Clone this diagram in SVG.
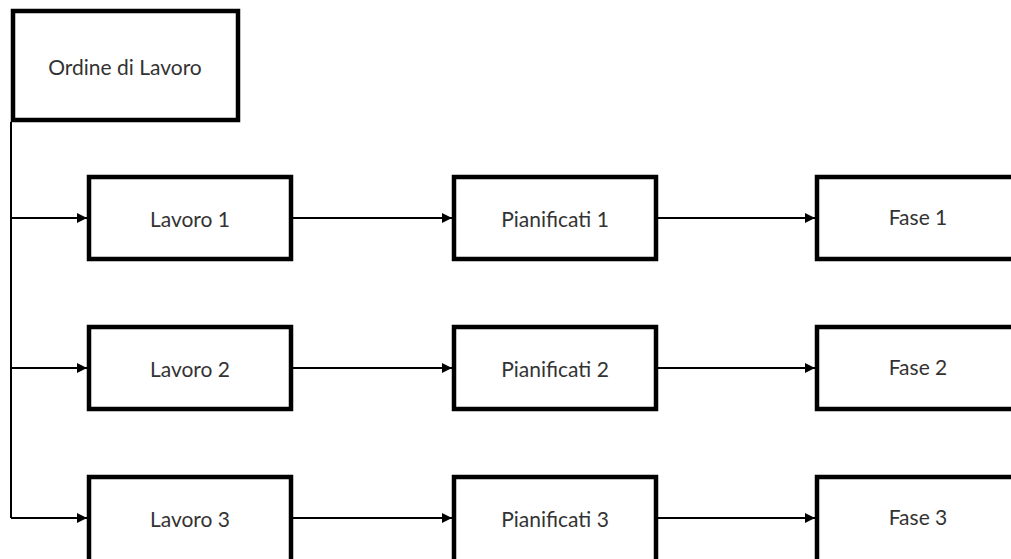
<svg xmlns="http://www.w3.org/2000/svg" width="1011" height="559" viewBox="0 0 1011 559">
  <defs>
    <marker id="arrow" viewBox="0 0 10 10" refX="10" refY="5" markerWidth="5" markerHeight="5" markerUnits="strokeWidth" orient="auto">
      <path d="M0,0 L10,5 L0,10 z" fill="#000"/>
    </marker>
  </defs>
  <style>
    .box { fill: #fff; stroke: #000; stroke-width: 4.5; }
    .label { font-family: Lato, "Liberation Sans", sans-serif; font-size: 21px; fill: #333; text-anchor: middle; dominant-baseline: central; }
    .conn { fill: none; stroke: #000; stroke-width: 2; }
  </style>
  <rect width="1011" height="559" fill="#fff"/>

  <g id="connectors">
    <path class="conn" d="M11,122 V518"/>
    <path class="conn" d="M11,218 H87" marker-end="url(#arrow)"/>
    <path class="conn" d="M11,368 H87" marker-end="url(#arrow)"/>
    <path class="conn" d="M11,518 H87" marker-end="url(#arrow)"/>
    <path class="conn" d="M293,218 H452" marker-end="url(#arrow)"/>
    <path class="conn" d="M293,368 H452" marker-end="url(#arrow)"/>
    <path class="conn" d="M293,518 H452" marker-end="url(#arrow)"/>
    <path class="conn" d="M658,218 H815" marker-end="url(#arrow)"/>
    <path class="conn" d="M658,368 H815" marker-end="url(#arrow)"/>
    <path class="conn" d="M658,518 H815" marker-end="url(#arrow)"/>
  </g>

  <g id="ordine">
    <rect class="box" x="13" y="11" width="225" height="109"/>
    <text class="label" x="125" y="66">Ordine di Lavoro</text>
  </g>

  <g id="lavoro1">
    <rect class="box" x="89" y="177" width="202" height="82"/>
    <text class="label" x="190" y="218">Lavoro 1</text>
  </g>
  <g id="pianificati1">
    <rect class="box" x="454" y="177" width="202" height="82"/>
    <text class="label" x="555" y="218">Pianificati 1</text>
  </g>
  <g id="fase1">
    <rect class="box" x="817" y="177" width="210" height="82"/>
    <text class="label" x="918" y="216">Fase 1</text>
  </g>

  <g id="lavoro2">
    <rect class="box" x="89" y="327" width="202" height="82"/>
    <text class="label" x="190" y="368">Lavoro 2</text>
  </g>
  <g id="pianificati2">
    <rect class="box" x="454" y="327" width="202" height="82"/>
    <text class="label" x="555" y="368">Pianificati 2</text>
  </g>
  <g id="fase2">
    <rect class="box" x="817" y="327" width="210" height="82"/>
    <text class="label" x="918" y="366">Fase 2</text>
  </g>

  <g id="lavoro3">
    <rect class="box" x="89" y="477" width="202" height="100"/>
    <text class="label" x="190" y="518">Lavoro 3</text>
  </g>
  <g id="pianificati3">
    <rect class="box" x="454" y="477" width="202" height="100"/>
    <text class="label" x="555" y="518">Pianificati 3</text>
  </g>
  <g id="fase3">
    <rect class="box" x="817" y="477" width="210" height="100"/>
    <text class="label" x="918" y="516">Fase 3</text>
  </g>
</svg>
